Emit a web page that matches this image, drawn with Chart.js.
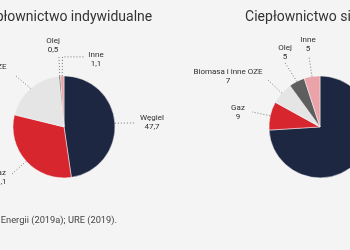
<!DOCTYPE html>
<html>
<head>
<meta charset="utf-8">
<script src="https://cdn.jsdelivr.net/npm/chart.js@4"></script>
<style>
html, body { margin: 0; padding: 0; background: #f4f4f4; }
body { width: 350px; height: 250px; position: relative; overflow: hidden; }
.okno { position: absolute; top: 0; width: 300px; height: 250px; }
#okno1 { left: -86px; }
#okno2 { left: 170px; }
#zrodlo { position: absolute; right: 233px; top: 214px; font: 9.3px Roboto, sans-serif; color: #444; white-space: nowrap; }
</style>
</head>
<body>
<div class="okno" id="okno1"><canvas id="wykres1"></canvas></div>
<div class="okno" id="okno2"><canvas id="wykres2"></canvas></div>
<div id="zrodlo">Źródło: Ministerstwo Energii (2019a); URE (2019).</div>
<script>
// dane
const kategorie = ['Węgiel', 'Gaz', 'Biomasa i inne OZE', 'Olej', 'Inne'];
const indywidualne = [47.7, 31.1, 19.6, 0.5, 1.1];
const sieciowe = [74, 9, 7, 5, 5];
const kolory = ['#1e2742', '#d8262f', '#e5e5e5', '#5e5e5e', '#eaa4a9'];

// położenie etykiet względem środka koła (x, y) i punkty linii odniesienia
const uklad1 = [
    { x: 88, y: -9, linia: [[71, -4]] },
    { x: -65, y: 46, linia: [[-52, 47]] },
    { x: -92, y: -60, linia: [[-48, -51]] },
    { x: -11, y: -86, linia: [[-5, -70]] },
    { x: 32, y: -72, linia: [[-1.5, -70], [21, -70]] }
];
const uklad2 = [
    { x: 90, y: 40, linia: [[72, 44]] },
    { x: -82, y: -19, linia: [[-68, -15]] },
    { x: -92, y: -55, linia: [[-52, -47]] },
    { x: -35, y: -79, linia: [[-35, -64]] },
    { x: -12, y: -87, linia: [[-11, -70]] }
];

const fmt = v => String(v).replace('.', ',');

// etykiety z kropkowanymi liniami
const etykiety = {
    id: 'etykiety',
    afterDatasetsDraw(chart, args, opts) {
        const ctx = chart.ctx;
        const meta = chart.getDatasetMeta(0);
        const dane = chart.data.datasets[0].data;
        ctx.save();
        meta.data.forEach((luk, i) => {
            const u = opts.uklad[i];
            if (!u) return;
            const p = luk.getProps(['x', 'y', 'startAngle', 'endAngle', 'outerRadius'], true);
            const kat = (p.startAngle + p.endAngle) / 2;
            ctx.beginPath();
            ctx.setLineDash([1, 2]);
            ctx.strokeStyle = '#777';
            ctx.lineWidth = 1;
            ctx.moveTo(p.x + Math.cos(kat) * p.outerRadius, p.y + Math.sin(kat) * p.outerRadius);
            u.linia.forEach(([dx, dy]) => ctx.lineTo(p.x + dx, p.y + dy));
            ctx.stroke();
            ctx.setLineDash([]);
            ctx.fillStyle = '#2e2e2e';
            ctx.font = '8px Roboto, sans-serif';
            ctx.textAlign = 'center';
            ctx.textBaseline = 'middle';
            ctx.fillText(chart.data.labels[i], p.x + u.x, p.y + u.y);
            ctx.fillText(fmt(dane[i]), p.x + u.x, p.y + u.y + 9);
        });
        ctx.restore();
    }
};

function kolo(id, tytul, dane, uklad) {
    return new Chart(document.getElementById(id), {
        type: 'pie',
        data: {
            labels: kategorie,
            datasets: [{
                data: dane,
                backgroundColor: kolory,
                borderColor: '#f4f4f4',
                borderWidth: 0.5,
                radius: 51
            }]
        },
        options: {
            responsive: true,
            maintainAspectRatio: false,
            animation: false,
            layout: { padding: { top: 0, bottom: 32 } },
            plugins: {
                legend: { display: false },
                tooltip: { enabled: false },
                title: {
                    display: true,
                    text: tytul,
                    color: '#333',
                    font: { family: 'Roboto', size: 14, weight: 'normal' },
                    padding: { top: 9, bottom: 10 }
                },
                etykiety: { uklad: uklad }
            }
        },
        plugins: [etykiety]
    });
}

kolo('wykres1', 'Ciepłownictwo indywidualne', indywidualne, uklad1);
kolo('wykres2', 'Ciepłownictwo sieciowe', sieciowe, uklad2);
</script>
</body>
</html>
